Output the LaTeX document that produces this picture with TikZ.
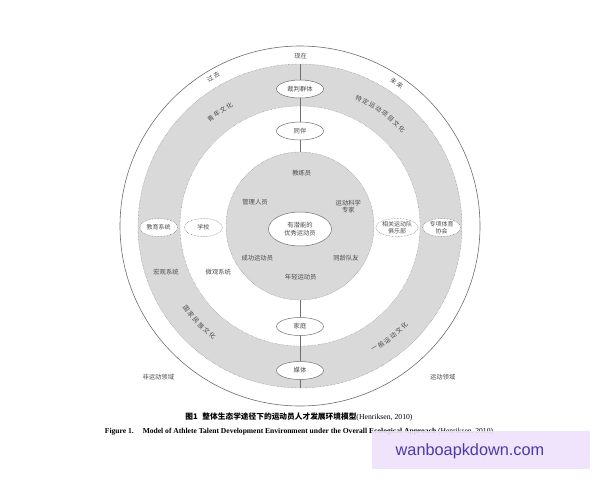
\documentclass[tikz,border=0pt]{standalone}
\usepackage{fontspec}
\setmainfont{Liberation Serif}
\newfontfamily\cjk{Noto Sans CJK SC}
\newfontfamily\wmfont{Liberation Sans}
\usetikzlibrary{shapes.geometric,calc}
\definecolor{bandgray}{HTML}{D9D9D9}
\definecolor{txtgray}{HTML}{4A4A4A}
\definecolor{edgegray}{HTML}{6E6E6E}
\definecolor{wmbox}{HTML}{EEE2FB}
\definecolor{wmtext}{HTML}{4B3BA8}
\tikzset{
  lbl/.style={font=\cjk\fontsize{6.3}{7.4}\selectfont, text=txtgray, align=center, inner sep=0pt},
  ovsolid/.style={ellipse, draw=edgegray, line width=0.5pt, fill=white, inner sep=0pt,
     minimum width=47pt, minimum height=18pt, font=\cjk\fontsize{6.3}{7.4}\selectfont, text=txtgray, align=center},
  ovdot/.style={ellipse, draw=edgegray, densely dotted, line width=0.5pt, fill=white, inner sep=0pt,
     minimum width=38pt, minimum height=18pt, font=\cjk\fontsize{6}{7}\selectfont, text=txtgray, align=center},
  ring/.style={draw=edgegray, densely dotted, line width=0.4pt},
  axis/.style={draw=edgegray, line width=0.4pt}
}
% text along the upper arc: #1 radius, #2 centre angle, #3 count, #4 name, #5 characters
\newcommand\arctopline[5]{%
  \foreach \ch [count=\i] in {#5} {
    \pgfmathsetmacro\ang{#2 + ((#3+1)/2 - \i)*7.6/#1*180/pi}
    \node[lbl, rotate=\ang-90] (#4\i) at ($(c)+({#1*cos(\ang)},{-#1*sin(\ang)})$) {\ch};
  }}
% text along the lower arc
\newcommand\arcbotline[5]{%
  \foreach \ch [count=\i] in {#5} {
    \pgfmathsetmacro\ang{#2 - ((#3+1)/2 - \i)*7.6/#1*180/pi}
    \node[lbl, rotate=\ang+90] (#4\i) at ($(c)+({#1*cos(\ang)},{-#1*sin(\ang)})$) {\ch};
  }}
\begin{document}
\begin{tikzpicture}[x=1pt,y=-1pt]
\useasboundingbox (0,0) rectangle (600,480);
\fill[white] (0,0) rectangle (600,480);
\coordinate (c) at (300,226);
% rings
\draw[draw=edgegray, line width=0.6pt, fill=white] (c) circle (180pt);
\fill[bandgray] (c) circle (162pt);
\draw[ring] (c) circle (162pt);
\fill[white] (c) circle (120pt);
\draw[ring] (c) circle (120pt);
\fill[bandgray] (c) circle (74pt);
\draw[ring] (c) circle (74pt);
% axis end points
\coordinate (gtop) at (300,64);
\coordinate (itop) at (300,152);
\coordinate (ibot) at (300,300);
\coordinate (gbot) at (300,388);
% ovals
\node[ovsolid] (ref) at (300,89) {裁判群体};
\node[ovsolid] (peer) at (300,131) {同伴};
\node[ovsolid] (fam) at (300,326.5) {家庭};
\node[ovsolid] (media) at (300,370.5) {媒体};
\node[ovdot] (edu) at (158.7,227.5) {教育系统};
\node[ovdot] (school) at (203.3,227.5) {学校};
\node[ovdot] (club) at (397,227.5) {相关运动队\\俱乐部};
\node[ovdot] (assoc) at (441.7,227.5) {专项体育\\协会};
\node[ellipse, draw=edgegray, line width=0.5pt, fill=white, inner sep=0pt,
      minimum width=63pt, minimum height=34pt, font=\cjk\fontsize{6.3}{8}\selectfont,
      text=txtgray, align=center] (ath) at (300,229) {有潜能的\\优秀运动员};
% axis lines
\draw[axis] (gtop) -- (ref);
\draw[axis] (ref) -- (peer);
\draw[axis] (peer) -- (itop);
\draw[axis] (ibot) -- (fam);
\draw[axis] (fam) -- (media);
\draw[axis] (media) -- (gbot);
% labels
\node[lbl] (now) at (300.7,56) {现在};
\arctopline{172.5}{120.2}{2}{past}{过,去}
\arctopline{172.5}{55.9}{2}{fut}{未,来}
\arctopline{139.5}{125.1}{4}{youth}{青,年,文,化}
\arctopline{140.5}{54.4}{8}{spec}{特,定,运,动,项,目,文,化}
\arcbotline{140.5}{223.7}{6}{nat}{国,家,民,族,文,化}
\arcbotline{144}{308.8}{6}{gen}{一,般,运,动,文,化}
\node[lbl] (coach) at (301.7,173.3) {教练员};
\node[lbl] (mgr) at (255,201.7) {管理人员};
\node[lbl] (sci) at (348.3,206.7) {运动科学\\专家};
\node[lbl] (succ) at (257.3,257.7) {成功运动员};
\node[lbl] (mate) at (346,258.3) {同龄队友};
\node[lbl] (young) at (300.7,276.7) {年轻运动员};
\node[lbl] (macro) at (166,271.7) {宏观系统};
\node[lbl] (micro) at (218.3,271.7) {微观系统};
\node[lbl] (nons) at (158.3,376.7) {非运动领域};
\node[lbl] (spo) at (442.7,376.7) {运动领域};
% captions
\node[inner sep=0pt, text=black] (cap1) at (299,417) {\fontsize{7.7}{8.5}\selectfont{\cjk\bfseries 图1\hspace{0.6em}整体生态学途径下的运动员人才发展环境模型}(Henriksen, 2010)};
\node[inner sep=0pt, text=black] (cap2) at (299,432) {\fontsize{7.55}{8.5}\selectfont\textbf{Figure 1.\hspace{1.2em}Model of Athlete Talent Development Environment under the Overall Ecological Approach} (Henriksen, 2010)};
% watermark
\fill[wmbox, fill opacity=0.9] (372,431) rectangle (590,469);
\node[inner sep=0pt, text=wmtext, font=\wmfont\fontsize{16.3}{18}\selectfont] (wm) at (470,451) {wanboapkdown.com};
\end{tikzpicture}
\end{document}
